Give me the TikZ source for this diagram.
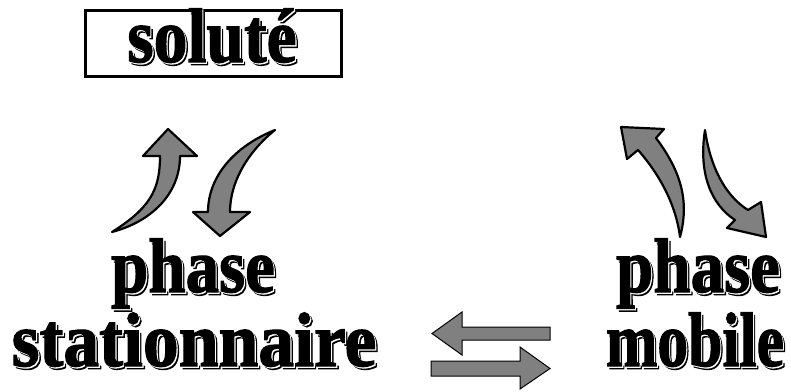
\documentclass[tikz,border=0pt]{standalone}
\usepackage{fontspec}
\setmainfont{Liberation Serif}[BoldFeatures={FakeBold=1.6}]
\usetikzlibrary{positioning}
\definecolor{arrowgray}{RGB}{128,128,128}
\tikzset{
  bigword/.style={font=\fontsize{77}{78}\selectfont\bfseries, inner sep=0pt, anchor=base},
  fatarrow/.style={fill=arrowgray, draw=black, line width=2.2pt, line join=round},
  flatarrow/.style={fill=arrowgray, draw=black, line width=1pt},
}
% black shadow, thin white edge, black letters (squeezed to width)
\newcommand{\ombre}[2][1]{\scalebox{#1}[1]{\rlap{\kern2.8pt\raisebox{-2.8pt}{#2}}\rlap{\kern1.3pt\raisebox{-1.3pt}{\color{white}#2}}#2}}

\begin{document}
\begin{tikzpicture}[x=1pt, y=-1pt]
            \useasboundingbox (0,0) rectangle (791,391);

            % Solute box
            \draw[line width=3pt] (85,10) rectangle (341,76);
            \node[bigword] (solute) at (212,62) {\ombre[0.88]{solut\'e}};

            % Phase labels
            \node[bigword] (phaseS) at (193,292) {\ombre[0.87]{phase}};
            \node[bigword] (stat) at (194,366) {\ombre[0.93]{stationnaire}};
            \node[bigword] (phaseM) at (698,292) {\ombre[0.87]{phase}};
            \node[bigword] (mobile) at (695,366) {\ombre[0.80]{mobile}};

            % Curved arrows, stationary side
            \draw[fatarrow] (112,232) .. controls (150,208) and (160,190) .. (160,156)
                -- (143,156) -- (168,129) -- (197,156) -- (180,156)
                .. controls (180,195) and (150,222) .. (112,232) -- cycle;
            \draw[fatarrow] (275,130) .. controls (235,146) and (208,176) .. (208,212)
                -- (193,212) -- (220,236) -- (250,212) -- (230,212)
                .. controls (230,180) and (250,150) .. (275,130) -- cycle;

            % Curved arrows, mobile side
            \draw[fatarrow] (680,237) .. controls (690,200) and (680,170) .. (656,138)
                -- (664,129) -- (621,127) -- (627,159) -- (638,150)
                .. controls (660,175) and (676,205) .. (680,237) -- cycle;
            \draw[fatarrow] (705,130) .. controls (698,175) and (712,205) .. (735,220)
                -- (727,228) -- (766,237) -- (761,202) -- (748,210)
                .. controls (724,195) and (710,165) .. (705,130) -- cycle;

            % Exchange arrows
            \draw[flatarrow] (550,327) -- (462,327) -- (462,312) -- (432,333.5)
                -- (462,355) -- (462,340) -- (550,340) -- cycle;
            \draw[flatarrow] (431,361) -- (520,361) -- (520,347) -- (550,368.5)
                -- (520,389) -- (520,376) -- (431,376) -- cycle;
        \end{tikzpicture}
\end{document}
